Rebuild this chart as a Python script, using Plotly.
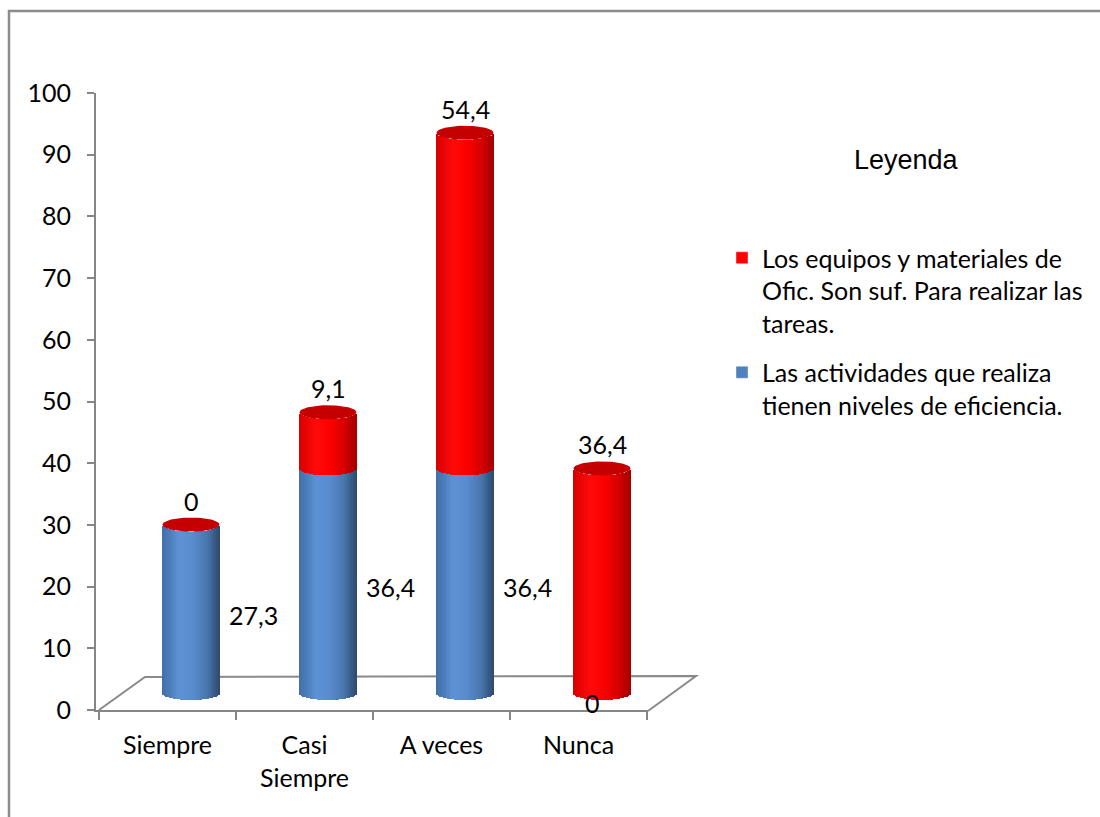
import numpy as np
import plotly.graph_objects as go

# ---- data ----
categories = ["Siempre", "Casi<br>Siempre", "A veces", "Nunca"]
eficiencia = [27.3, 36.4, 36.4, 0.0]      # lower (blue) series
equipos = [0.0, 9.1, 54.4, 36.4]          # upper (red) series, stacked on blue
name_equipos = "Los equipos y materiales de<br>Ofic. Son suf. Para realizar las<br>tareas."
name_eficiencia = "Las actividades que realiza<br>tienen niveles de eficiencia."
y_tick_values = list(range(0, 101, 10))

# ---- geometry (pixels) ----
FIG_W, FIG_H = 1100, 817
PL, PR, PT, PB = 96, 648, 93, 710          # plot area
PX_X = 137.0                                # pixels per category
PX_Y = (PB - PT) / 100.0                    # pixels per value unit
X0 = -3 / PX_X
X1 = X0 + (PR - PL) / PX_X
DEPTH_X, DEPTH_Y = 23.5, 17.0               # half depth of the 3-D floor
RAD_X = 28.5 / PX_X                         # cylinder half width (x units)
RAD_Y = 7.0 / PX_Y                          # ellipse half height (y units)
FONT = "Lato, 'Open Sans', sans-serif"
FS = 25

def px_to_paper(px, py):
    return (px - PL) / (PR - PL), (PB - py) / (PB - PT)

def hex2rgb(h):
    h = h.lstrip("#")
    return np.array([int(h[i:i + 2], 16) for i in (0, 2, 4)], dtype=float)

def shade(stops, t):
    pos = [s[0] for s in stops]
    cols = [hex2rgb(s[1]) for s in stops]
    for i in range(len(pos) - 1):
        if pos[i] <= t <= pos[i + 1]:
            f = (t - pos[i]) / (pos[i + 1] - pos[i])
            c = cols[i] * (1 - f) + cols[i + 1] * f
            return "rgb(%d,%d,%d)" % tuple(np.round(c))
    c = cols[-1]
    return "rgb(%d,%d,%d)" % tuple(np.round(c))

BLUE_STOPS = [(0, "#416ea8"), (0.3, "#5c92d4"), (0.55, "#588bcd"),
              (0.8, "#4874aa"), (1, "#2d4a70")]
RED_STOPS = [(0, "#d80000"), (0.3, "#ff0a0a"), (0.55, "#fb0000"),
             (0.8, "#d60000"), (1, "#a40000")]

fig = go.Figure()

# cylinders are drawn as thin vertical bar slices, shaded across the width
N_SLICES = 36
centers = [i + 0.5 for i in range(len(categories))]
totals = [a + b for a, b in zip(eficiencia, equipos)]
slice_w = 2 * RAD_X / N_SLICES * 1.4
for k in range(N_SLICES):
    u = -1 + (2 * k + 1) / N_SLICES
    arc = RAD_Y * np.sqrt(1 - u * u)
    xs = [c + u * RAD_X for c in centers]
    t = (u + 1) / 2
    fig.add_trace(go.Bar(
        x=xs, y=eficiencia, base=[-arc] * len(xs), width=slice_w,
        marker=dict(color=shade(BLUE_STOPS, t), line=dict(width=0)),
        xaxis="x2", yaxis="y2", showlegend=False, hoverinfo="skip"))
    fig.add_trace(go.Bar(
        x=xs, y=equipos, base=[e - arc for e in eficiencia], width=slice_w,
        marker=dict(color=shade(RED_STOPS, t), line=dict(width=0)),
        xaxis="x2", yaxis="y2", showlegend=False, hoverinfo="skip"))

# top caps of the stacks
theta = np.linspace(0, 2 * np.pi, 73)
cap_x, cap_y = [], []
for c, top in zip(centers, totals):
    cap_x += list(c + RAD_X * np.cos(theta)) + [None]
    cap_y += list(top + RAD_Y * np.sin(theta)) + [None]
fig.add_trace(go.Scatter(
    x=cap_x, y=cap_y, mode="lines", fill="toself", fillcolor="#c40000",
    line=dict(width=0, color="#c40000"), xaxis="x2", yaxis="y2",
    showlegend=False, hoverinfo="skip"))

# legend entries
fig.add_trace(go.Bar(x=[None], y=[None], name=name_equipos, marker_color="#ff0000",
                     legendrank=1, legendgroup="a"))
fig.add_trace(go.Bar(x=[None], y=[None], name=name_eficiencia, marker_color="#4f81bd",
                     legendrank=2, legendgroup="b"))

def fmt(v):
    return ("%g" % v).replace(".", ",")

annotations = []
label_font = dict(family=FONT, size=FS, color="#000000")
for c, e, q, top in zip(centers, eficiencia, equipos, totals):
    if e == 0:
        annotations.append(dict(x=c, y=0, xref="x2", yref="y2", text=fmt(e),
                                showarrow=False, font=label_font,
                                xanchor="center", xshift=-10, yshift=-10))
    else:
        annotations.append(dict(x=c + RAD_X, y=e / 2, xref="x2", yref="y2",
                                text=fmt(e), showarrow=False, font=label_font,
                                xshift=34, xanchor="center", yshift=-6))
    annotations.append(dict(x=c, y=top, xref="x2", yref="y2", text=fmt(q),
                            showarrow=False, font=label_font, xanchor="center",
                            yshift=24))

lx, ly = px_to_paper(906, 160)
annotations.append(dict(x=lx, y=ly, xref="paper", yref="paper", text="Leyenda",
                        showarrow=False, xanchor="center", yanchor="middle",
                        font=dict(family="'Liberation Sans', Arial, sans-serif",
                                  size=27, color="#000000")))

# floor of the 3-D plot and outer frame
fl = px_to_paper(99, 710)
bl = px_to_paper(145, 677)
br = px_to_paper(696, 676)
fr = px_to_paper(648, 711)
floor_path = "M %f,%f L %f,%f L %f,%f L %f,%f" % (fl + bl + br + fr)
f0 = px_to_paper(9, 11)
f1 = px_to_paper(1110, 830)
shapes = [
    dict(type="path", path=floor_path, xref="paper", yref="paper",
         line=dict(color="#8a8a8a", width=2), layer="below"),
    dict(type="rect", x0=f0[0], y0=f0[1], x1=f1[0], y1=f1[1], xref="paper",
         yref="paper", line=dict(color="#8c8c8c", width=2.5)),
]

axis_line = dict(showline=True, linecolor="#868686", linewidth=2)
fig.update_layout(
    width=FIG_W, height=FIG_H,
    margin=dict(l=PL, r=FIG_W - PR, t=PT, b=FIG_H - PB, pad=0),
    paper_bgcolor="white", plot_bgcolor="white",
    barmode="overlay", bargap=0,
    font=dict(family=FONT, size=FS, color="#000000"),
    xaxis=dict(range=[X0, X1], tickvals=centers, ticktext=categories,
               ticks="", showgrid=False, zeroline=False,
               ticklabelstandoff=12,
               minor=dict(tickvals=[0, 1, 2, 3, 4], ticks="outside", ticklen=8,
                          tickcolor="#868686", tickwidth=2, showgrid=False),
               **axis_line),
    yaxis=dict(range=[0, 100], tickvals=y_tick_values, ticks="outside",
               ticklen=7, tickcolor="#868686", tickwidth=2, showgrid=False,
               zeroline=False, ticklabelstandoff=11, **axis_line),
    xaxis2=dict(range=[X0 - DEPTH_X / PX_X, X1 - DEPTH_X / PX_X],
                overlaying="x", visible=False),
    yaxis2=dict(range=[-DEPTH_Y / PX_Y, 100 - DEPTH_Y / PX_Y],
                overlaying="y", visible=False),
    legend=dict(x=px_to_paper(722, 0)[0], y=px_to_paper(0, 235)[1],
                xanchor="left", yanchor="top", valign="top",
                font=dict(family=FONT, size=FS, color="#000000"),
                tracegroupgap=14, bgcolor="rgba(0,0,0,0)"),
    annotations=annotations,
    shapes=shapes,
    showlegend=True,
)

fig.write_html("out.html")
